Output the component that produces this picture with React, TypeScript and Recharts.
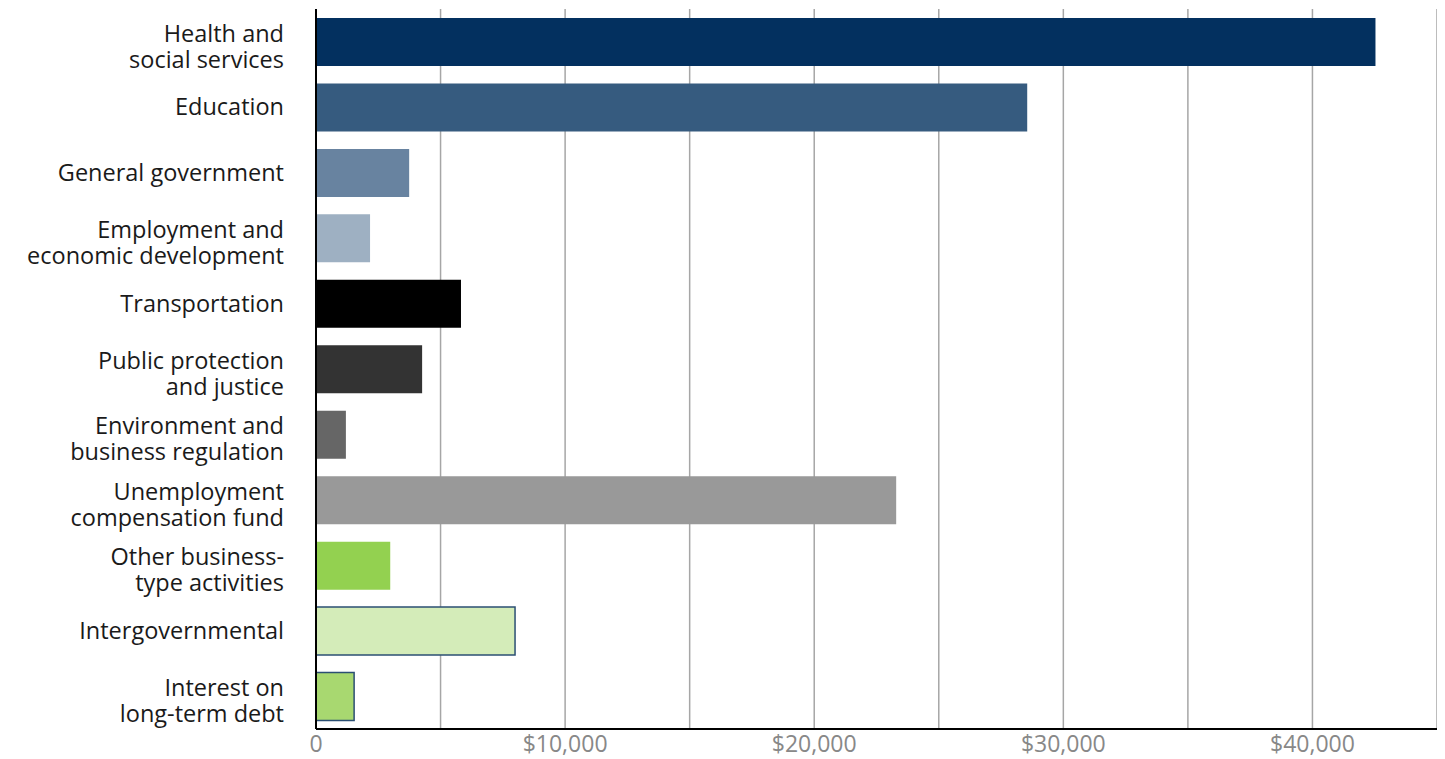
import React from "react";
import { BarChart, Bar, XAxis, YAxis, CartesianGrid, Cell } from "recharts";

const categories: string[][] = [
  ["Health and", "social services"],
  ["Education"],
  ["General government"],
  ["Employment and", "economic development"],
  ["Transportation"],
  ["Public protection", "and justice"],
  ["Environment and", "business regulation"],
  ["Unemployment", "compensation fund"],
  ["Other business-", "type activities"],
  ["Intergovernmental"],
  ["Interest on", "long-term debt"],
];
const values: number[] = [42530, 28550, 3740, 2170, 5820, 4260, 1200, 23290, 2980, 7990, 1530];
const colors: string[] = ["#03305f", "#365b7f", "#6883a0", "#9eb0c2", "#000000", "#333333", "#666666", "#999999", "#93d150", "#d4ecb9", "#a8d870"];
const strokes: string[] = ["none", "none", "none", "none", "none", "none", "none", "none", "none", "#2b4f73", "#2b4f73"];
const xTicks: number[] = [0, 5000, 10000, 15000, 20000, 25000, 30000, 35000, 40000, 45000];

const data = categories.map((c, i) => ({ name: c.join("\n"), value: values[i] }));

const FONT = "'Open Sans', Lato, sans-serif";

const CatTick = (props: any) => {
  const { y, payload } = props;
  const lines: string[] = String(payload.value).split("\n");
  const lh = 26;
  const tx = 276;
  const base = lines.length === 1 ? y + 8 : y;
  return (
    <text x={tx} y={base} textAnchor="end" fill="#1a1a1a" fontFamily={FONT} fontSize={23.5}>
      {lines.map((l, i) => (
        <tspan key={i} x={tx} y={base + i * lh}>{l}</tspan>
      ))}
    </text>
  );
};

const XTick = (props: any) => {
  const { x, payload } = props;
  const v = payload.value as number;
  const label = v === 0 ? "0" : v % 10000 === 0 && v < 45000 ? "$" + v.toLocaleString("en-US") : "";
  if (!label) return null;
  return (
    <text x={x} y={744} textAnchor="middle" fill="#888888" fontFamily={FONT} fontSize={23}>
      {label}
    </text>
  );
};

export default function App() {
  return (
    <BarChart
      width={1437}
      height={751}
      data={data}
      layout="vertical"
      margin={{ top: 1, right: 8, bottom: 0, left: 0 }}
      barSize={48}
    >
      <CartesianGrid horizontal={false} stroke="#a6a6a6" strokeWidth={1.5} />
      <XAxis
        type="number"
        domain={[0, 45000]}
        ticks={xTicks}
        height={30}
        tickLine={false}
        axisLine={{ stroke: "#000", strokeWidth: 2 }}
        tick={<XTick />}
        interval={0}
      />
      <YAxis
        type="category"
        dataKey="name"
        width={308}
        tickLine={false}
        axisLine={{ stroke: "#000", strokeWidth: 2 }}
        tick={<CatTick />}
        interval={0}
      />
      <Bar dataKey="value" isAnimationActive={false}>
        {data.map((d, i) => (
          <Cell key={i} fill={colors[i]} stroke={strokes[i]} strokeWidth={1.5} />
        ))}
      </Bar>
    </BarChart>
  );
}
